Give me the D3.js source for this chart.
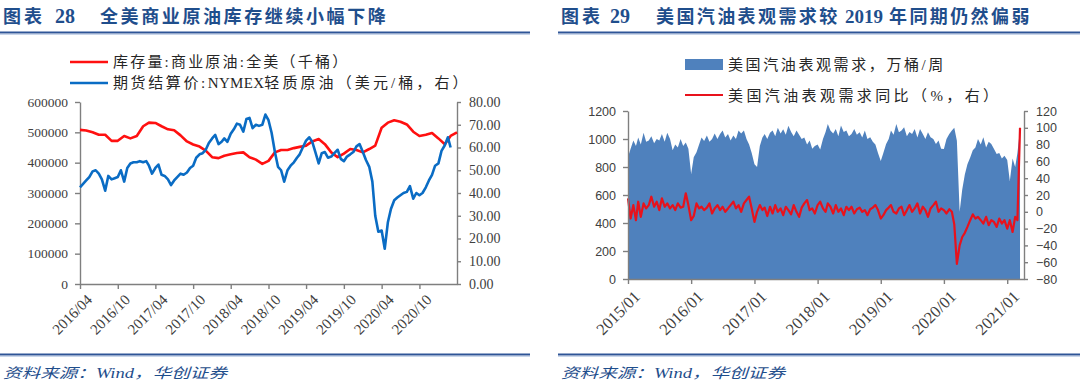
<!DOCTYPE html>
<html><head><meta charset="utf-8">
<script src="https://cdn.jsdelivr.net/npm/d3@7"></script>
<style>body{margin:0;background:#fff}svg{display:block}</style>
</head><body>
<svg id="c" width="1080" height="391"></svg>
<script>
// ---------- Left chart data ----------
const leftTitleNum = ["图表", "28"];
const leftTitle = "全美商业原油库存继续小幅下降";
const leftLegend = [["库存量:商业原油:全美（千桶）"], ["期货结算价:", "NYMEX", "轻质原油（美元/桶，右）"]];
const leftXTicks = ["2016/04","2016/10","2017/04","2017/10","2018/04","2018/10","2019/04","2019/10","2020/04","2020/10"];
const leftYTicks = [0,100000,200000,300000,400000,500000,600000];
const leftY2Ticks = [0,10,20,30,40,50,60,70,80];
const invStart = "2016/04"; // monthly, thousand barrels
const inventory = [508000,506000,500000,492000,492000,472000,472000,488000,480000,488000,520000,532000,
 531000,520000,510000,507000,490000,470000,460000,453000,440000,418000,415000,423000,
 428000,432000,434000,418000,410000,396000,406000,434000,442000,442000,448000,452000,
 456000,470000,478000,461000,434000,418000,430000,445000,442000,434000,445000,456000,
 515000,532000,540000,535000,526000,502000,488000,492000,498000,480000,461000,488000,500000];
const priceStart = "2016/04"; // semi-monthly, USD/bbl
const wti = [42.5,44,45.5,47,49.5,50,48.5,46,41,47.5,46,46.5,47,50,45,51,53,53.5,53.5,54,53.5,54,52,48.5,
 51,52.5,48,47.5,46,43.5,45.5,47,48.5,48,49,51,52,55.5,57,57.5,59,62,64,65.5,61.5,62.5,64,62.5,
 66,68,70.5,70,67,72.5,73,68.5,70,69.5,70,74.5,72,66.5,58,51.5,50,45,50,52,53.5,55.5,57,60,
 63,64.5,62.5,58,53,57.5,58,55.5,56,57.5,59,55,54,56,57,58,60.5,61.5,58,54.5,51.5,45,30,23,
 23.5,15.5,27,33,36.8,38,39,40,40.5,43,37.5,40,39,40,42.5,45.5,48,52,53,58.5,61,64.5,60];

// ---------- Right chart data ----------
const rightTitleNum = ["图表", "29"];
const rightTitle = ["美国汽油表观需求较", "2019", "年同期仍然偏弱"];
const rightLegend = ["美国汽油表观需求，万桶/周", "美国汽油表观需求同比（%，右）"];
const rightXTicks = ["2015/01","2016/01","2017/01","2018/01","2019/01","2020/01","2021/01"];
const rightYTicks = [0,200,400,600,800,1000,1200];
const rightY2Ticks = [-80,-60,-40,-20,0,20,40,60,80,100,120];
const demandStart = "2015/01"; // semi-monthly, 10k bbl/week
const demand = [
 870,930,990,950,1010,960,1045,980,990,1020,970,1000,990,1035,980,1045,1000,920,960,940,1000,950,975,930,
 750,870,905,960,1010,985,1025,980,1000,1040,1000,1035,1060,1010,1035,990,1025,1000,1060,1040,1060,1000,960,900,
 820,800,950,1010,1036,1000,1045,1060,1020,1080,1040,1070,1030,1095,1050,1020,1060,1030,1000,1010,960,990,930,950,
 960,925,1000,1050,1108,1060,1040,1072,1020,1096,1050,1060,1020,1036,1072,1030,1048,1010,1060,1000,1012,980,960,900,
 843,900,964,1000,1060,1030,1108,1048,1060,1084,1020,1050,1036,1072,1010,1072,1036,1000,1048,1012,1000,964,990,930,
 928,1000,1036,1060,1080,988,480,640,747,820,867,920,940,1000,960,1012,940,980,964,930,892,900,860,880,
 850,700,860,800,900,1070];
const demandYoY = [
 16,-8,8,-10,12,-6,10,4,8,18,6,12,2,16,6,10,4,8,2,10,5,6,22,8,
 -10,-5,10,4,6,2,5,10,-2,4,8,2,6,0,4,8,12,4,8,0,10,14,18,4,
 -12,0,8,2,5,-5,6,-2,8,0,4,-4,6,2,-3,8,0,-6,5,10,14,2,4,-2,
 8,12,4,0,10,6,-2,8,0,4,-4,6,2,6,-2,3,5,0,2,-4,3,5,8,2,
 -8,-4,2,5,8,0,-2,4,6,-4,2,8,0,4,10,-2,6,2,-6,4,8,12,0,4,
 2,-2,3,0,-15,-62,-40,-30,-25,-18,-10,-3,-8,-6,-10,-14,-6,-16,-10,-12,-18,-8,-14,-10,
 -20,-10,-24,-6,-10,100];
const sourceText = "资料来源：Wind，华创证券";

// ---------- helpers ----------
const parseYM = d3.timeParse("%Y/%m");
const monthly = (start, arr) => arr.map((v,i)=>({d:d3.timeMonth.offset(parseYM(start), i), v}));
const semiMonthly = (start, arr) => arr.map((v,i)=>{
  const m = d3.timeMonth.offset(parseYM(start), Math.floor(i/2));
  return {d: i%2 ? d3.timeDay.offset(m, 15) : m, v};
});
const svg = d3.select("#c");
const BLUE_T = "#1F4E8C";
const SERIF = "'Liberation Serif','Noto Sans CJK SC',serif";
const CJK = "'Liberation Serif','Noto Sans CJK SC',sans-serif";
const SANS = "'Liberation Sans',Arial,sans-serif";
const AX = "#7f7f7f", TXT = "#404040";

function header(x0, x1, num, numX) {
  svg.append("text").attr("x", x0+3).attr("y", 23).text(num[0])
    .attr("font-family", SERIF).attr("font-weight","bold").attr("font-size",18).attr("fill",BLUE_T)
    .attr("letter-spacing", 3);
  svg.append("text").attr("x", numX).attr("y", 23).text(num[1])
    .attr("font-family", SERIF).attr("font-weight","bold").attr("font-size",20).attr("fill",BLUE_T);
  svg.append("line").attr("x1",x0).attr("x2",x1).attr("y1",32.5).attr("y2",32.5).attr("stroke","#2F5597").attr("stroke-width",2);
  svg.append("line").attr("x1",x0).attr("x2",x1).attr("y1",34.5).attr("y2",34.5).attr("stroke","#c9d6ea").attr("stroke-width",1);
  svg.append("line").attr("x1",x0).attr("x2",x1).attr("y1",354.5).attr("y2",354.5).attr("stroke","#2F5597").attr("stroke-width",2);
  svg.append("line").attr("x1",x0).attr("x2",x1).attr("y1",356.5).attr("y2",356.5).attr("stroke","#c9d6ea").attr("stroke-width",1);
  svg.append("text").attr("x", x0+3).attr("y", 378).text(sourceText)
    .attr("font-family", SERIF).attr("font-style","italic").attr("font-size",14).attr("fill",BLUE_T)
    .attr("textLength", 224).attr("lengthAdjust","spacingAndGlyphs");
}
function styleAxis(g, font, size) {
  g.selectAll(".domain").attr("stroke", AX).attr("stroke-width",1.4);
  g.selectAll(".tick line").attr("stroke", AX).attr("stroke-width",1.4);
  g.selectAll("text").attr("fill", TXT).attr("font-family", font).attr("font-size", size);
}

// ================= LEFT =================
header(0, 530, leftTitleNum, 55);
svg.append("text").attr("x", 100).attr("y", 23).text(leftTitle)
  .attr("font-family", SERIF).attr("font-weight","bold").attr("font-size",18).attr("fill",BLUE_T)
  .attr("letter-spacing", 2.6);
{
  const x = d3.scaleTime().domain([parseYM("2016/04"), parseYM("2021/04")]).range([80,457]);
  const yL = d3.scaleLinear().domain([0,600000]).range([284,102]);
  const yR = d3.scaleLinear().domain([0,80]).range([284,102]);
  const inv = monthly(invStart, inventory);
  const pr = semiMonthly(priceStart, wti);

  const gx = svg.append("g").attr("transform","translate(0,284)")
    .call(d3.axisBottom(x).tickValues(leftXTicks.map(parseYM)).tickFormat(d3.timeFormat("%Y/%m")).tickSize(5).tickSizeOuter(0));
  styleAxis(gx, SERIF, 15);
  gx.selectAll("text").attr("text-anchor","end").attr("dy",0).attr("dx",0)
    .attr("transform","translate(7,11) rotate(-45)");
  const gl = svg.append("g").attr("transform","translate(80,0)")
    .call(d3.axisLeft(yL).tickValues(leftYTicks).tickFormat(d3.format("d")).tickSize(5).tickSizeOuter(0).tickPadding(7));
  styleAxis(gl, SERIF, 13.5);
  const gr = svg.append("g").attr("transform","translate(457,0)")
    .call(d3.axisRight(yR).tickValues(leftY2Ticks).tickFormat(d3.format(".2f")).tickSize(4).tickSizeOuter(0).tickPadding(8));
  styleAxis(gr, SERIF, 14);

  svg.append("path").datum(inv).attr("fill","none").attr("stroke","#FF1010").attr("stroke-width",2.6)
    .attr("stroke-linejoin","round").attr("d", d3.line().x(d=>x(d.d)).y(d=>yL(d.v)));
  svg.append("path").datum(pr).attr("fill","none").attr("stroke","#0A6CC4").attr("stroke-width",2.6)
    .attr("stroke-linejoin","round").attr("d", d3.line().x(d=>x(d.d)).y(d=>yR(d.v)));

  const leg = [{c:"#FF1010", y:62, t:leftLegend[0], ls:[2.2]},
               {c:"#0A6CC4", y:83, t:leftLegend[1], ls:[2.6,0.3,3.1]}];
  leg.forEach(l=>{
    svg.append("line").attr("x1",70).attr("x2",108).attr("y1",l.y).attr("y2",l.y).attr("stroke",l.c).attr("stroke-width",2.6);
    const t = svg.append("text").attr("x",113).attr("y",l.y+5).attr("font-family",CJK).attr("font-size",15).attr("fill","#262626");
    l.t.forEach((s,i)=>t.append("tspan").text(s).attr("letter-spacing", l.ls[i]));
  });
}

// ================= RIGHT =================
header(558, 1080, rightTitleNum, 610);
{
  const tx = [656, 845, 889];
  rightTitle.forEach((s,i)=>svg.append("text").attr("x", tx[i]).attr("y", 23).text(s)
    .attr("font-family", SERIF).attr("font-weight","bold").attr("font-size", i===1?19:18).attr("fill",BLUE_T)
    .attr("letter-spacing", i===1?0:2.4));
}
{
  const x = d3.scaleTime().domain([parseYM("2015/01"), new Date(2021,3,8)]).range([628,1024]);
  const yL = d3.scaleLinear().domain([0,1200]).range([279,111]);
  const yR = d3.scaleLinear().domain([-80,120]).range([279,111]);
  const dem = semiMonthly(demandStart, demand);
  const yoy = semiMonthly(demandStart, demandYoY);

  svg.append("path").datum(dem).attr("fill","#4F81BD").attr("stroke","none")
    .attr("d", d3.area().x(d=>x(d.d)).y0(yL(0)).y1(d=>yL(d.v)));
  svg.append("path").datum(yoy).attr("fill","none").attr("stroke","#E8121C").attr("stroke-width",2.2)
    .attr("stroke-linejoin","round").attr("d", d3.line().x(d=>x(d.d)).y(d=>yR(d.v)));

  const gx = svg.append("g").attr("transform","translate(0,279)")
    .call(d3.axisBottom(x).tickValues(rightXTicks.map(parseYM)).tickFormat(d3.timeFormat("%Y/%m")).tickSize(5).tickSizeOuter(0));
  styleAxis(gx, SERIF, 16.5);
  gx.selectAll("text").attr("text-anchor","end").attr("dy",0).attr("dx",0)
    .attr("transform","translate(7,13) rotate(-45)");
  const gl = svg.append("g").attr("transform","translate(628,0)")
    .call(d3.axisLeft(yL).tickValues(rightYTicks).tickFormat(d3.format("d")).tickSize(5).tickSizeOuter(0).tickPadding(7));
  styleAxis(gl, SANS, 12.5);
  const gr = svg.append("g").attr("transform","translate(1024,0)")
    .call(d3.axisRight(yR).tickValues(rightY2Ticks).tickFormat(d3.format("d")).tickSize(4).tickSizeOuter(0).tickPadding(8));
  styleAxis(gr, SANS, 12.5);

  svg.append("rect").attr("x",685).attr("y",59).attr("width",38).attr("height",11).attr("fill","#4F81BD");
  svg.append("text").attr("x",728).attr("y",70).text(rightLegend[0]).attr("font-family",CJK).attr("font-size",15)
    .attr("fill","#262626").attr("letter-spacing",2.6);
  svg.append("line").attr("x1",685).attr("x2",723).attr("y1",95).attr("y2",95).attr("stroke","#E8121C").attr("stroke-width",2.2);
  svg.append("text").attr("x",728).attr("y",101).text(rightLegend[1]).attr("font-family",CJK).attr("font-size",15)
    .attr("fill","#262626").attr("letter-spacing",3.4);
}
</script>
</body></html>
